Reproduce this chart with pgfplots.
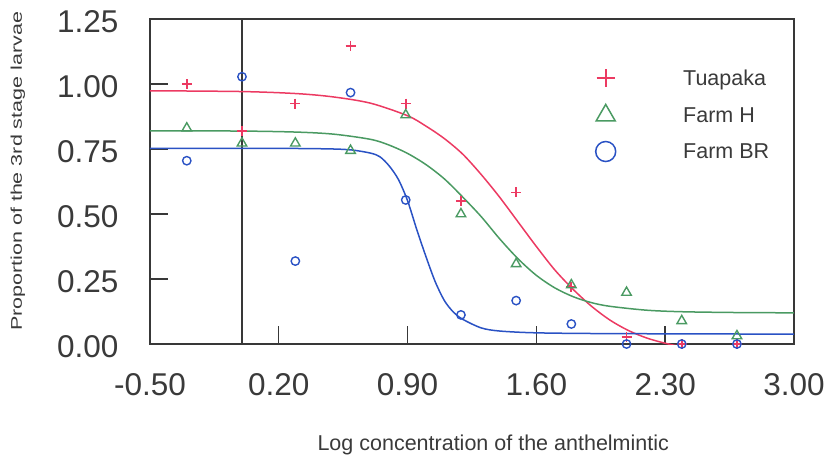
\documentclass[border=0pt]{standalone}
\usepackage{fontspec}
\setmainfont{Liberation Sans}
\usepackage{graphicx}
\usepackage{pgfplots}
\pgfplotsset{compat=1.18}
\definecolor{cred}{HTML}{EC3A62}
\definecolor{cgreen}{HTML}{4A9A62}
\definecolor{cblue}{HTML}{2A52C4}
\definecolor{cframe}{HTML}{383838}
\definecolor{ctext}{HTML}{3A3A3A}
\begin{document}
\begin{tikzpicture}
\begin{axis}[
  scale only axis, width=644pt, height=325pt,
  xmin=-0.5, xmax=3.0, ymin=0, ymax=1.25,
  xtick={-0.5,0.2,0.9,1.6,2.3,3.0},
  ytick={0,0.25,0.5,0.75,1.0,1.25},
  tick pos=left, tick align=inside,
  major tick length=18pt,
  axis line style={cframe, line width=1.4pt},
  every tick/.style={cframe, line width=1.4pt},
  /pgf/number format/fixed,
  /pgf/number format/fixed zerofill,
  /pgf/number format/precision=2,
  /pgf/number format/assume math mode=true,
  ticklabel style={font=\fontsize{31.5}{36}\selectfont, text=ctext},
  yticklabel style={xshift=-28pt, yshift=-3pt},
  xticklabel style={yshift=-26pt},
  xlabel={Log concentration of the anthelmintic},
  ylabel={\scalebox{1}[0.72]{Proportion of the 3rd stage larvae}},
  label style={font=\fontsize{21.5}{26}\selectfont, text=ctext},
  xlabel style={at={(axis description cs:0.533,-0.31)}, anchor=center},
  ylabel style={at={(axis description cs:-0.205,0.531)}, anchor=center},
  legend style={at={(axis description cs:0.6918,0.8513)}, anchor=north west,
    draw=none, fill=none, inner sep=0pt, row sep=15.8pt, column sep=0pt,
    font=\fontsize{21.5}{26}\selectfont, text=ctext, nodes={inner sep=2pt}},
  legend cell align=left,
  legend image code/.code={\path[draw=none,fill=none] (-10pt,-10pt) rectangle (75.5pt,10pt); \draw[#1] plot coordinates {(0pt,0pt)};},
  clip marker paths=false,
]
\addlegendimage{only marks, mark=+, mark size=9pt, cred, line width=1.7pt, mark options={draw=cred}}
\addlegendentry{Tuapaka}
\addlegendimage{only marks, mark=triangle, mark size=11pt, cgreen, line width=1.5pt, mark options={draw=cgreen}}
\addlegendentry{Farm H}
\addlegendimage{only marks, mark=o, mark size=10pt, cblue, line width=1.5pt, mark options={draw=cblue}}
\addlegendentry{Farm BR}

% vertical reference line at 0
\addplot[forget plot, cframe, line width=1.4pt] coordinates {(0,0) (0,1.25)};

% fitted curves
\addplot[forget plot, cred, line width=1.5pt, smooth, no marks] coordinates {
(-0.5,0.974)(0,0.971)(0.3,0.963)(0.5,0.950)(0.7,0.926)(0.9,0.878)(1.0,0.838)(1.1,0.79)(1.2,0.73)(1.3,0.652)(1.4,0.565)(1.5,0.47)(1.6,0.375)(1.7,0.285)(1.8,0.21)(1.9,0.145)(2.0,0.092)(2.1,0.052)(2.2,0.023)(2.3,0.003)(2.4,-0.012)};
\addplot[forget plot, cgreen, line width=1.5pt, smooth, no marks] coordinates {
(-0.5,0.82)(0,0.819)(0.3,0.815)(0.5,0.807)(0.7,0.787)(0.8,0.765)(0.9,0.733)(1.0,0.69)(1.1,0.635)(1.2,0.565)(1.3,0.49)(1.4,0.405)(1.5,0.328)(1.6,0.264)(1.7,0.216)(1.8,0.182)(1.9,0.159)(2.0,0.145)(2.2,0.130)(2.4,0.124)(2.7,0.121)(3.0,0.120)};
\addplot[forget plot, cblue, line width=1.5pt, smooth, no marks] coordinates {
(-0.5,0.752)(0,0.752)(0.3,0.752)(0.5,0.750)(0.6,0.746)(0.7,0.734)(0.75,0.72)(0.8,0.685)(0.85,0.633)(0.9,0.551)(0.95,0.44)(1.0,0.336)(1.05,0.24)(1.1,0.167)(1.15,0.122)(1.2,0.095)(1.3,0.062)(1.4,0.05)(1.6,0.043)(2.0,0.04)(3.0,0.038)};

% observations
\addplot[forget plot, only marks, mark=+, mark size=5pt, cred, mark options={draw=cred, line width=1.7pt}] coordinates {
(-0.30,1.00)(0.00,0.82)(0.29,0.925)(0.59,1.147)(0.89,0.925)(1.19,0.55)(1.49,0.583)(1.79,0.22)(2.09,0.027)(2.39,0.0)(2.69,0.0)};
\addplot[forget plot, only marks, mark=triangle, mark size=5.5pt, cgreen, mark options={draw=cgreen, line width=1.4pt}] coordinates {
(-0.30,0.83)(0.00,0.772)(0.29,0.772)(0.59,0.744)(0.89,0.881)(1.19,0.50)(1.49,0.308)(1.79,0.227)(2.09,0.198)(2.39,0.089)(2.69,0.031)};
\addplot[forget plot, only marks, mark=o, mark size=4.2pt, cblue, mark options={draw=cblue, line width=1.4pt}] coordinates {
(-0.30,0.705)(0.00,1.028)(0.29,0.319)(0.59,0.967)(0.89,0.554)(1.19,0.112)(1.49,0.167)(1.79,0.077)(2.09,0.0)(2.39,0.0)(2.69,0.0)};

\coordinate (bbsw) at (axis description cs:-0.2329,-0.3477);
\coordinate (bbne) at (axis description cs:1.0575,1.0585);
\end{axis}
\pgfresetboundingbox
\path (bbsw) rectangle (bbne);
\end{tikzpicture}
\end{document}
